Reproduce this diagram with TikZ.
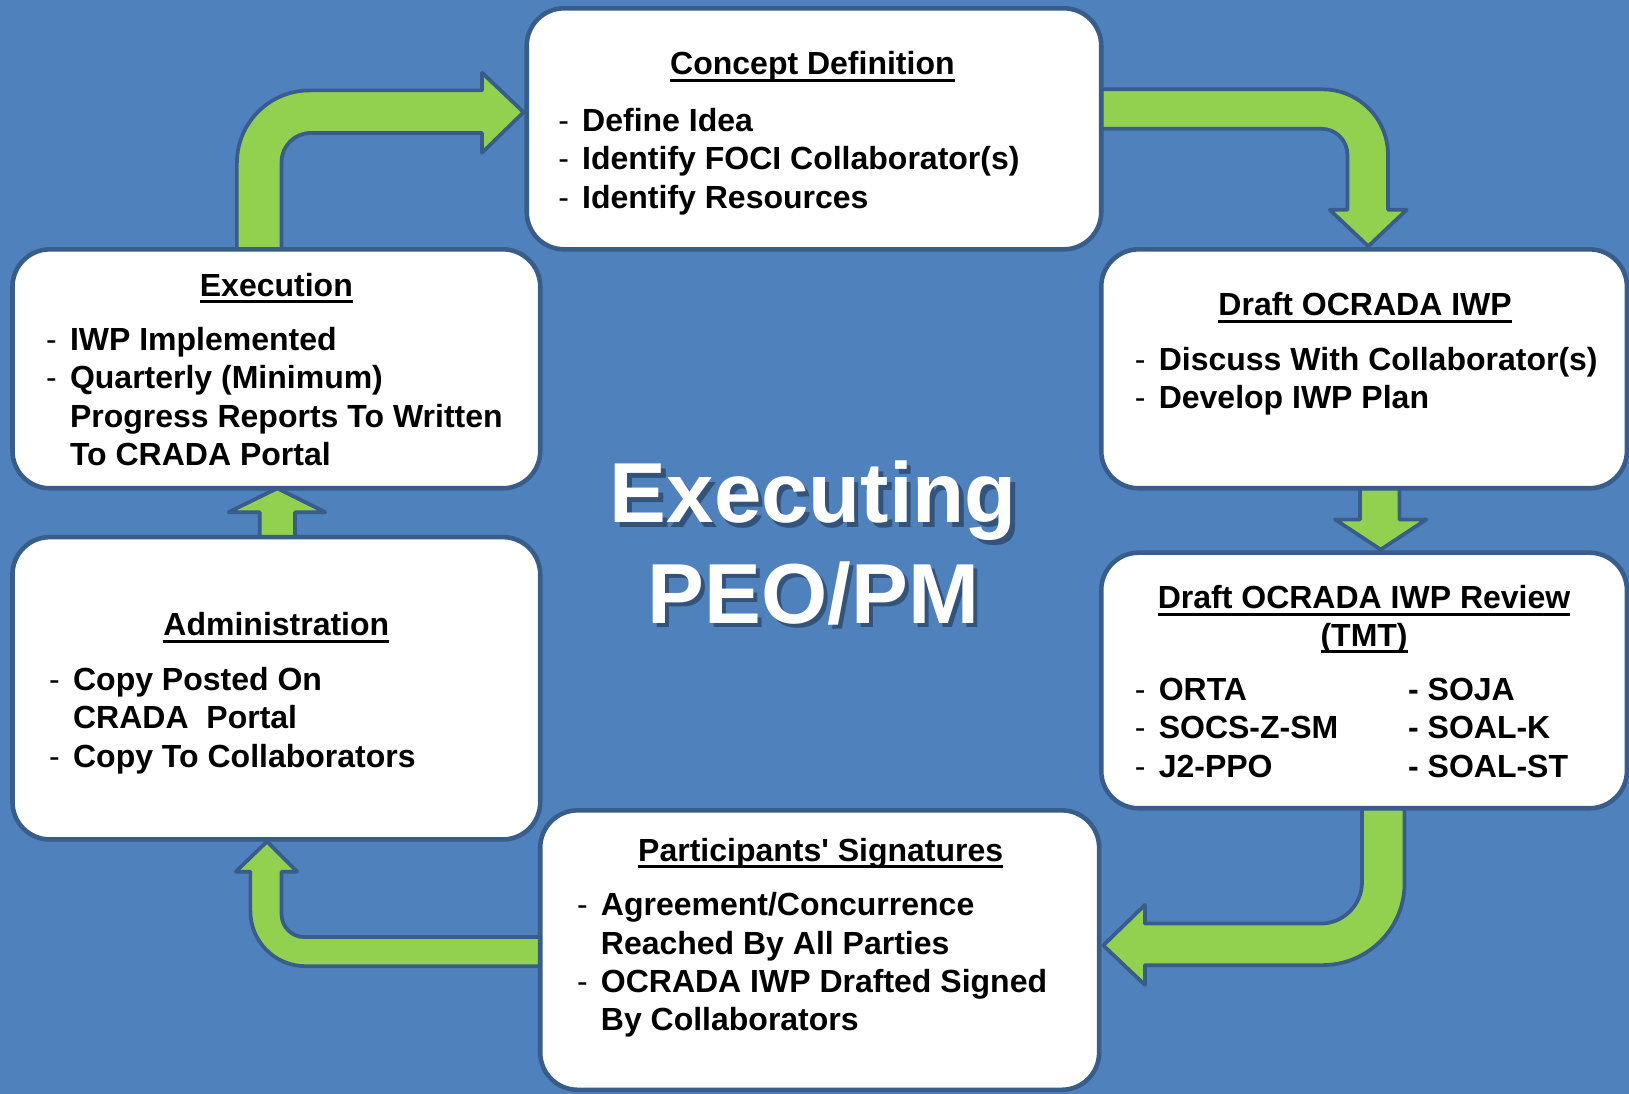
\documentclass[tikz,border=0pt]{standalone}
\usepackage{fontspec}
\setmainfont{Liberation Sans}
\usepackage{xcolor}
\usepackage{tikz}
\usetikzlibrary{fit}

\definecolor{bgblue}{HTML}{4F81BD}
\definecolor{edgeblue}{HTML}{385D8A}
\definecolor{arrowgreen}{HTML}{92D050}

\newcommand{\itm}{\strut\makebox[10.5pt][l]{\hspace*{-1pt}\mdseries-}}
\newcommand{\itx}{\strut\hspace*{10.5pt}}
\newcommand{\ttlline}[1]{\setbox0=\hbox{#1}\rlap{\rule[-3.4pt]{\wd0}{1.4pt}}\box0}

\begin{document}
\begin{tikzpicture}[x=0.5pt, y=-0.5pt,
    every node/.style={font=\fontsize{15.4}{18.5}\selectfont\bfseries},
    panel/.style={draw=edgeblue, line width=2.2pt, fill=white, rounded corners=18pt, inner sep=0pt},
    flow/.style={fill=arrowgreen, draw=edgeblue, line width=1.8pt, line join=round},
    itemlist/.style={anchor=north west, inner sep=0pt, align=left},
    heading/.style={anchor=base, inner sep=0pt}]
                                            % background
                                            \fill[bgblue] (0,0) rectangle (1568,1053);
                                            \useasboundingbox (0,0) rectangle (1568,1053);
                                            % block arrows
                                            \filldraw[flow] (228,240) -- (228,157) arc[start angle=180,end angle=270,radius=70] -- (464,87) -- (464,70) -- (504,108) -- (464,147) -- (464,128) -- (299,128) arc[start angle=270,end angle=180,radius=28] -- (271,240) -- cycle; % Execution -> Concept
                                            \filldraw[flow] (1060,86) -- (1273,86) arc[start angle=270,end angle=360,radius=63] -- (1336,202) -- (1354,202) -- (1317,237) -- (1280,202) -- (1297,202) -- (1297,149) arc[start angle=0,end angle=-90,radius=25] -- (1060,124) -- cycle; % Concept -> Draft
                                            \filldraw[flow] (1309,470) -- (1309,500) -- (1285,500) -- (1329,529) -- (1373,500) -- (1347,500) -- (1347,470) -- cycle; % Draft -> Review
                                            \filldraw[flow] (1311,778) -- (1311,849) arc[start angle=0,end angle=90,radius=40] -- (1102,889) -- (1102,871) -- (1062,910) -- (1102,948) -- (1102,929) -- (1273,929) arc[start angle=90,end angle=0,radius=79] -- (1352,778) -- cycle; % Review -> Signatures
                                            \filldraw[flow] (520,902) -- (293,902) arc[start angle=90,end angle=180,radius=22] -- (271,839) -- (286,839) -- (257,810) -- (227,839) -- (241,839) -- (241,877) arc[start angle=180,end angle=90,radius=53] -- (520,930) -- cycle; % Signatures -> Administration
                                            \filldraw[flow] (250,517) -- (250,493) -- (220,493) -- (267,470) -- (313,493) -- (284,493) -- (284,517) -- cycle; % Administration -> Execution
                                            % panels
                                            \node (concept) [panel, fit={(507,8) (1060,240)}] {};
                                            \node (draft)   [panel, fit={(1060,240) (1566,470)}] {};
                                            \node (review)  [panel, fit={(1060,532) (1566,778)}] {};
                                            \node (sign)    [panel, fit={(520,780) (1058,1049)}] {};
                                            \node (admin)   [panel, fit={(12,517) (520,808)}] {};
                                            \node (exec)    [panel, fit={(12,240) (520,470)}] {};
                                            % panel texts
                                            \node (concepttitle) [heading] at (782,72) {\ttlline{Concept Definition}};
                                            \node (conceptlist)  [itemlist] at (539,100) {\itm Define Idea\\ \itm Identify FOCI Collaborator(s)\\ \itm Identify Resources};
                                            \node (drafttitle)   [heading] at (1314,304) {\ttlline{Draft OCRADA IWP}};
                                            \node (draftlist)    [itemlist] at (1094,330) {\itm Discuss With Collaborator(s)\\ \itm Develop IWP Plan};
                                            \node (reviewtitle)  [heading] at (1313,586) {\ttlline{Draft OCRADA IWP Review}};
                                            \node (reviewtmt)    [heading] at (1313,622) {\ttlline{(TMT)}};
                                            \node (reviewleft)   [itemlist] at (1094,648) {\itm ORTA\\ \itm SOCS-Z-SM\\ \itm J2-PPO};
                                            \node (reviewright)  [itemlist] at (1355,648) {\strut - SOJA\\ \strut - SOAL-K\\ \strut - SOAL-ST};
                                            \node (signtitle)    [heading] at (790,829) {\ttlline{Participants\textquotesingle\ Signatures}};
                                            \node (signlist)     [itemlist] at (557,855) {\itm Agreement/Concurrence\\ \itx Reached By All Parties\\ \itm OCRADA IWP Drafted Signed\\ \itx By Collaborators};
                                            \node (admintitle)   [heading] at (266,612) {\ttlline{Administration}};
                                            \node (adminlist)    [itemlist] at (49,638) {\itm Copy Posted On\\ \itx CRADA\ \ Portal\\ \itm Copy To Collaborators};
                                            \node (exectitle)    [heading] at (266,285) {\ttlline{Execution}};
                                            \node (execlist)     [itemlist] at (46,311) {\itm IWP Implemented\\ \itm Quarterly (Minimum)\\ \itx Progress Reports To Written\\ \itx To CRADA Portal};
                                            % centre label
                                            \node (peoshadow) [anchor=north, align=center, inner sep=0pt, text=black, opacity=0.35, font=\fontsize{41}{48.5}\selectfont\bfseries] at (787,439) {\strut Executing\\ PEO/PM};
                                            \node (peo) [anchor=north, align=center, inner sep=0pt, text=white, font=\fontsize{41}{48.5}\selectfont\bfseries] at (783,435) {\strut Executing\\ PEO/PM};
                                          \end{tikzpicture}
\end{document}
